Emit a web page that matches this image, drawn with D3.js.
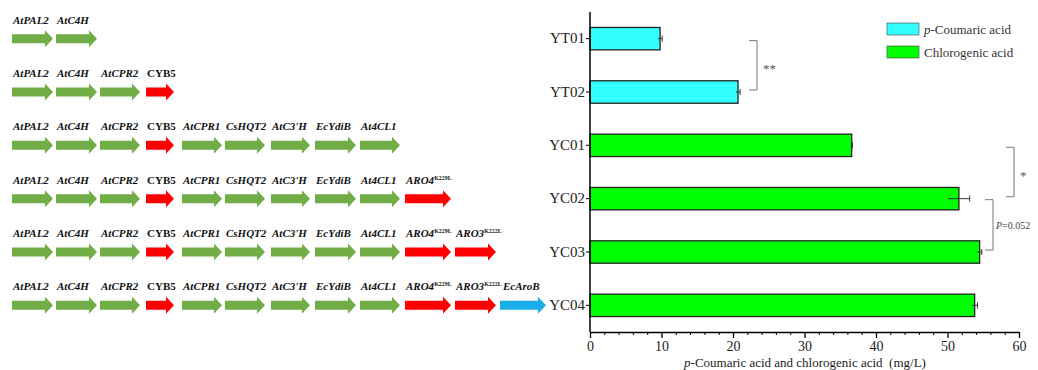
<!DOCTYPE html>
<html>
<head>
<meta charset="utf-8">
<script src="https://cdn.jsdelivr.net/npm/d3@7"></script>
<style>
  body { margin: 0; background: #fff; }
  svg { display: block; font-family: "Liberation Serif", "Times New Roman", serif; }
</style>
</head>
<body>
<div id="chart"></div>
<script>
// strains and measured titres (mg/L)
let strains = ['YT01', 'YT02', 'YC01', 'YC02', 'YC03', 'YC04'];
let titres = [9.8, 20.7, 36.6, 51.6, 54.5, 53.8];
let errors = [0.3, 0.3, 0.1, 1.5, 0.3, 0.4];
let products = ['p-Coumaric acid', 'p-Coumaric acid', 'Chlorogenic acid', 'Chlorogenic acid', 'Chlorogenic acid', 'Chlorogenic acid'];
let productNames = ['p-Coumaric acid', 'Chlorogenic acid'];
let productColors = ['#33ffff', '#00ff00'];
let xTicks = [0, 10, 20, 30, 40, 50, 60];

// gene list: name, superscript, colour type, slot start / end (in gene-map units)
let genes = ['AtPAL2', 'AtC4H', 'AtCPR2', 'CYB5', 'AtCPR1', 'CsHQT2', "AtC3'H", 'EcYdiB', 'At4CL1', 'ARO4', 'ARO3', 'EcAroB'];
let geneSup = ['', '', '', '', '', '', '', '', '', 'K229L', 'K222L', ''];
let geneType = ['g', 'g', 'g', 'r', 'g', 'g', 'g', 'g', 'g', 'r', 'r', 'b'];
let geneStart = [12, 56, 100, 146, 182, 225, 271, 315, 360, 405, 455, 500];
let geneEnd = [53, 97, 140, 174, 222, 265, 310, 356, 400, 451, 496, 546];
// how many genes each strain carries
let geneCount = [2, 4, 9, 10, 11, 12];

// significance brackets
let brackets = [
    { from: 'YT01', to: 'YT02', x: 757, label: '**' },
    { from: 'YC01', to: 'YC02', x: 1014, label: '*' },
    { from: 'YC02', to: 'YC03', x: 993, label: 'P=0.052' }
];

let typeColor = { g: '#70ad47', r: '#ff0000', b: '#19aeea' };

let W = 1038, H = 370;
let svg = d3.select('#chart').append('svg')
    .attr('width', W)
    .attr('height', H);

let x = d3.scaleLinear().domain([0, 60]).range([590, 1019]);
let y = d3.scaleBand().domain(strains).range([12, 332]).paddingInner(0.58).paddingOuter(0.29);
let color = d3.scaleOrdinal().domain(productNames).range(productColors);
let gx = d3.scaleLinear().domain([0, 1038]).range([0, 1038]);

let cy = function (s) { return y(s) + y.bandwidth() / 2; };

// bars
svg.selectAll('rect.bar')
    .data(strains)
    .enter()
    .append('rect')
    .attr('class', 'bar')
    .attr('x', x(0))
    .attr('y', function (d) { return y(d); })
    .attr('width', function (d, i) { return x(titres[i]) - x(0); })
    .attr('height', y.bandwidth())
    .attr('fill', function (d, i) { return color(products[i]); })
    .attr('stroke', '#222')
    .attr('stroke-width', 1.3);

// error bars
strains.forEach(function (s, i) {
    let g = svg.append('g').attr('stroke', '#333').attr('stroke-width', 1);
    g.append('line')
        .attr('x1', x(titres[i] - errors[i])).attr('x2', x(titres[i] + errors[i]))
        .attr('y1', cy(s)).attr('y2', cy(s));
    g.append('line')
        .attr('x1', x(titres[i] + errors[i])).attr('x2', x(titres[i] + errors[i]))
        .attr('y1', cy(s) - 3).attr('y2', cy(s) + 3);
});

// x axis
let xAxis = svg.append('g')
    .attr('transform', 'translate(0,332)')
    .call(d3.axisBottom(x).tickValues(xTicks).tickSize(6).tickSizeOuter(0));
xAxis.select('.domain').attr('stroke', '#000').attr('stroke-width', 1.5);
xAxis.selectAll('.tick line').attr('stroke-width', 1.3);
xAxis.selectAll('text')
    .attr('font-family', '"Liberation Serif", serif')
    .attr('font-size', 14)
    .attr('dy', '0.72em')
    .attr('fill', '#222');

// minor ticks
svg.append('g')
    .attr('transform', 'translate(0,332)')
    .call(d3.axisBottom(x).tickValues(d3.range(2, 60, 2).filter(function (v) { return v % 10 != 0; })).tickSize(3).tickFormat(''))
    .call(function (g) { g.select('.domain').remove(); });

// y axis
let yAxis = svg.append('g')
    .attr('transform', 'translate(' + x(0) + ',0)')
    .call(d3.axisLeft(y).tickSize(4).tickPadding(1).tickSizeOuter(0));
yAxis.select('.domain').attr('stroke-width', 1.5).attr('d', 'M0,12V332');
yAxis.selectAll('text')
    .attr('font-family', '"Liberation Serif", serif')
    .attr('font-size', 15)
    .attr('fill', '#222');

// x axis title
let title = svg.append('text')
    .attr('x', 805)
    .attr('y', 367)
    .attr('text-anchor', 'middle')
    .attr('font-size', 13)
    .attr('fill', '#222');
title.append('tspan').attr('font-style', 'italic').text('p');
title.append('tspan').text('-Coumaric acid and chlorogenic acid\u00a0\u00a0(mg/L)');

// legend
productNames.forEach(function (p, i) {
    svg.append('rect')
        .attr('x', 887).attr('y', 23 + i * 23)
        .attr('width', 32).attr('height', 12)
        .attr('fill', color(p))
        .attr('stroke', '#444').attr('stroke-width', 0.6);
    let t = svg.append('text')
        .attr('x', 924).attr('y', 34 + i * 23)
        .attr('font-size', 13)
        .attr('fill', '#333');
    if (p.startsWith('p-')) {
        t.append('tspan').attr('font-style', 'italic').text('p');
        t.append('tspan').text(p.slice(1));
    } else {
        t.text(p);
    }
});

// significance brackets
brackets.forEach(function (b) {
    let y1 = cy(b.from) + 2, y2 = cy(b.to) - 2;
    if (b.label == 'P=0.052') { y1 = cy(b.from) + 1; y2 = cy(b.to) - 2; }
    svg.append('path')
        .attr('d', 'M' + (b.x - 8) + ',' + y1 + 'H' + b.x + 'V' + y2 + 'H' + (b.x - 8))
        .attr('fill', 'none')
        .attr('stroke', '#777')
        .attr('stroke-width', 1);
    let ym = (y1 + y2) / 2;
    if (b.label == 'P=0.052') {
        let t = svg.append('text')
            .attr('x', b.x + 3).attr('y', ym + 4)
            .attr('font-size', 10)
            .attr('fill', '#444');
        t.append('tspan').attr('font-style', 'italic').text('P');
        t.append('tspan').text('=0.052');
    } else {
        svg.append('text')
            .attr('x', b.x + 6).attr('y', ym + 8)
            .attr('font-size', 13)
            .attr('fill', '#555')
            .text(b.label);
    }
});

// gene maps on the left
function arrowPath(x0, x1, yc) {
    let head = 8, bh = 4.5, hh = 8.5;
    let xh = x1 - head;
    return 'M' + x0 + ',' + (yc - bh) + 'H' + xh + 'V' + (yc - hh) + 'L' + x1 + ',' + yc +
        'L' + xh + ',' + (yc + hh) + 'V' + (yc + bh) + 'H' + x0 + 'Z';
}

strains.forEach(function (s, r) {
    let yc = cy(s);
    for (let i = 0; i < geneCount[r]; i++) {
        svg.append('path')
            .attr('d', arrowPath(gx(geneStart[i]), gx(geneEnd[i]), yc))
            .attr('fill', typeColor[geneType[i]]);
        let t = svg.append('text')
            .attr('x', gx(geneStart[i]) + (genes[i] == 'EcAroB' ? 3 : 1))
            .attr('y', yc - 15)
            .attr('font-size', 11)
            .attr('font-weight', 'bold')
            .attr('font-style', 'italic')
            .attr('fill', '#111');
        let name = genes[i];
        if (name == 'CYB5') {
            t.attr('font-style', 'normal');
        }
        t.append('tspan').text(name);
        if (geneSup[i]) {
            t.append('tspan')
                .attr('font-size', 6)
                .attr('dy', -4)
                .attr('font-style', 'normal')
                .text(geneSup[i]);
        }
    }
});
</script>
</body>
</html>
